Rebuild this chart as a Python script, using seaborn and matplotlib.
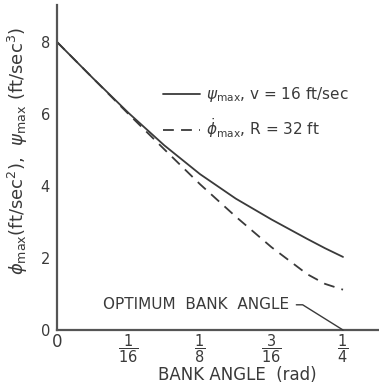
import numpy as np
import pandas as pd
import matplotlib
matplotlib.use("Agg")
import matplotlib.pyplot as plt
import seaborn as sns

# Bank angle samples (rad) and the two maximum-rate curves
bank_angle = [0.0, 1/32, 1/16, 3/32, 1/8, 5/32, 3/16, 7/32, 15/64, 1/4]
psi_max = [8.0, 7.0, 6.03, 5.13, 4.33, 3.65, 3.07, 2.53, 2.27, 2.03]
phi_dot_max = [8.0, 7.0, 6.0, 5.02, 4.05, 3.15, 2.3, 1.55, 1.28, 1.12]

x_ticks = [0, 1/16, 1/8, 3/16, 1/4]
x_tick_labels = ["0", r"$\dfrac{1}{16}$", r"$\dfrac{1}{8}$", r"$\dfrac{3}{16}$", r"$\dfrac{1}{4}$"]
y_ticks = [0, 2, 4, 6, 8]

label_psi = r"$\psi_{\mathrm{max}}$, v = 16 ft/sec"
label_phi = r"$\dot{\phi}_{\mathrm{max}}$, R = 32 ft"
optimum_angle = 1/4

sns.set_style("white")
plt.rcParams["font.family"] = ["DejaVu Sans"]
plt.rcParams["mathtext.fontset"] = "dejavusans"

ink = "#3a3a3a"
fig = plt.figure(figsize=(3.79, 3.87), dpi=100)
ax = fig.add_axes([57/379, 57/387, 322/379, 325/387])

df = pd.DataFrame({"angle": bank_angle, "psi": psi_max, "phi": phi_dot_max})
sns.lineplot(data=df, x="angle", y="psi", ax=ax, color=ink, lw=1.3, label=label_psi)
sns.lineplot(data=df, x="angle", y="phi", ax=ax, color=ink, lw=1.3,
             linestyle=(0, (6, 4)), label=label_phi)

ax.set_xlim(0, 322 / (71.5 * 16))
ax.set_ylim(0, 325 / 36)

for side in ("top", "right"):
    ax.spines[side].set_visible(False)
for side in ("left", "bottom"):
    ax.spines[side].set_color("#555555")
    ax.spines[side].set_linewidth(1.6)

ax.set_xticks(x_ticks)
ax.set_xticklabels(x_tick_labels, fontsize=10.5, color=ink)
ax.get_xticklabels()[0].set_fontsize(12)
ax.set_yticks(y_ticks)
ax.set_yticklabels([str(v) for v in y_ticks], fontsize=10.5, color=ink)
ax.tick_params(axis="x", direction="in", length=4, width=1.2, color="#555555", pad=2)
ax.tick_params(axis="y", direction="out", length=2, width=1.2, color="#555555", pad=3)

ax.set_xlabel("BANK ANGLE  (rad)", fontsize=12, color=ink)
ax.xaxis.set_label_coords(0.56, -0.11)
ax.set_ylabel(r"$\phi_{\mathrm{max}}$(ft/sec$^2$),  $\psi_{\mathrm{max}}$ (ft/sec$^3$)",
              fontsize=13, color=ink)
ax.yaxis.set_label_coords(-0.085, 0.55)

leg = ax.legend(loc="upper left", bbox_to_anchor=(0.329, 0.754), frameon=False,
                handlelength=2.4, handletextpad=0.45, labelspacing=0.8,
                borderpad=0, borderaxespad=0, fontsize=11)
for t in leg.get_texts():
    t.set_color(ink)

ax.annotate("OPTIMUM  BANK  ANGLE", xy=(optimum_angle, 0), xytext=(0.040, 0.7),
            fontsize=11, color=ink, va="center", ha="left",
            arrowprops=dict(arrowstyle="-", color=ink, lw=1.0, relpos=(1, 0.5),
                            shrinkA=3, shrinkB=0,
                            connectionstyle="angle,angleA=0,angleB=148,rad=0"))

fig.savefig("out.png", dpi=100)
